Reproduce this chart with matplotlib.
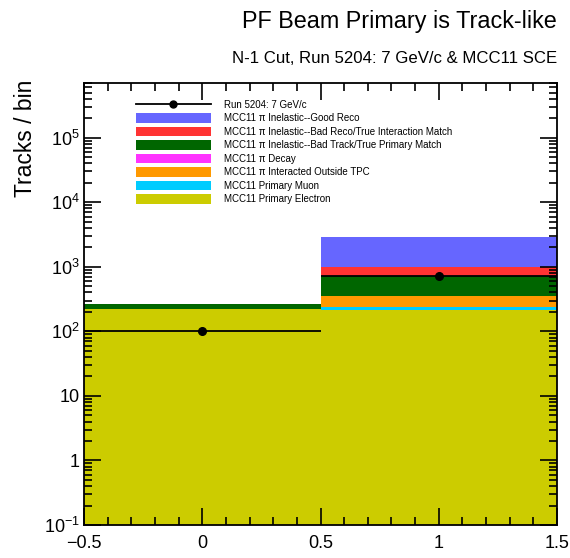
import numpy as np
import matplotlib
matplotlib.use("Agg")
import matplotlib.pyplot as plt
from matplotlib.patches import Patch
from matplotlib.lines import Line2D
from matplotlib.ticker import FixedLocator, FixedFormatter, MultipleLocator, NullFormatter

plt.rcParams['font.family'] = ['Liberation Sans', 'DejaVu Sans']
plt.rcParams['mathtext.fontset'] = 'custom'
plt.rcParams['mathtext.rm'] = 'Liberation Sans'
plt.rcParams['mathtext.it'] = 'Liberation Sans:italic'

# Bin centres (0 = fails cut, 1 = passes cut)
bin_centers = [0.0, 1.0]
bin_width = 1.0

# MC stack components, bottom to top
components = [
    "MCC11 Primary Electron",
    "MCC11 Primary Muon",
    "MCC11 π Interacted Outside TPC",
    "MCC11 π Decay",
    "MCC11 π Inelastic--Bad Track/True Primary Match",
    "MCC11 π Inelastic--Bad Reco/True Interaction Match",
    "MCC11 π Inelastic--Good Reco",
]
electron = [222, 212]
muon = [0.5, 26]
outside_tpc = [3, 111]
decay = [0.2, 1]
bad_track = [40, 370]
bad_reco = [0.5, 273]
good_reco = [0.5, 1900]
component_values = [electron, muon, outside_tpc, decay, bad_track, bad_reco, good_reco]
colors = ["#cccc00", "#00ccff", "#ff9900", "#ff33ff", "#006600", "#ff3333", "#6666ff"]

# Beam data
data_label = "Run 5204: 7 GeV/c"
data_counts = [100, 720]

fig = plt.figure(figsize=(5.70, 5.58), dpi=100)
ax = fig.add_axes([0.1474, 0.0591, 0.8298, 0.7920])

bottom = np.zeros(len(bin_centers))
for vals, col in zip(component_values, colors):
    vals = np.asarray(vals, dtype=float)
    ax.bar(bin_centers, vals, width=bin_width, bottom=bottom, color=col,
           linewidth=0, align='center')
    bottom += vals

dc = np.asarray(data_counts, dtype=float)
ax.errorbar(bin_centers, dc, xerr=bin_width / 2, yerr=np.sqrt(dc), fmt='o',
            color='black', markersize=5.5, linewidth=1.3, capsize=0, zorder=5)

ax.set_yscale('log')
ax.set_xlim(-0.5, 1.5)
ax.set_ylim(0.1, 7e5)

# Axis ticks
xt = [-0.5, 0, 0.5, 1, 1.5]
ax.xaxis.set_major_locator(FixedLocator(xt))
ax.xaxis.set_major_formatter(FixedFormatter(["\u22120.5", "0", "0.5", "1", "1.5"]))
ax.xaxis.set_minor_locator(MultipleLocator(0.1))

yt = [1e-1, 1, 10, 1e2, 1e3, 1e4, 1e5]
ax.yaxis.set_major_locator(FixedLocator(yt))
ax.yaxis.set_major_formatter(FixedFormatter(
    [r"$10^{-1}$", "1", "10", r"$10^{2}$", r"$10^{3}$", r"$10^{4}$", r"$10^{5}$"]))
minors = [m * 10.0 ** e for e in range(-1, 6) for m in range(2, 10)]
ax.yaxis.set_minor_locator(FixedLocator(minors))
ax.yaxis.set_minor_formatter(NullFormatter())

ax.tick_params(which='both', direction='in', top=True, right=True,
               labelsize=13, width=1.2)
ax.tick_params(axis='x', which='major', length=12, pad=7)
ax.tick_params(axis='x', which='minor', length=6)
ax.tick_params(axis='y', which='major', length=12, pad=3)
ax.tick_params(axis='y', which='minor', length=6)
for s in ax.spines.values():
    s.set_linewidth(1.3)

ax.set_ylabel("Tracks / bin", fontsize=16.5, loc='top')
ax.yaxis.set_label_coords(-0.099, 1.007)

# Legend
handles = [Line2D([0], [0], color='black', marker='o', markersize=5, linewidth=1.3)]
labels = [data_label]
for name, col in zip(components[::-1], colors[::-1]):
    handles.append(Patch(facecolor=col, edgecolor='none'))
    labels.append(name)
ax.legend(handles, labels, loc='upper left', bbox_to_anchor=(0.101, 0.971),
          frameon=False, fontsize=7, handlelength=7.7, handleheight=1.1,
          handletextpad=1.4, labelspacing=0.36, borderaxespad=0)

fig.text(0.977, 0.962, "PF Beam Primary is Track-like", ha='right', va='center',
         fontsize=16.8)
fig.text(0.977, 0.895, "N-1 Cut, Run 5204: 7 GeV/c & MCC11 SCE", ha='right',
         va='center', fontsize=12.1)

fig.savefig("out.png", dpi=100)
